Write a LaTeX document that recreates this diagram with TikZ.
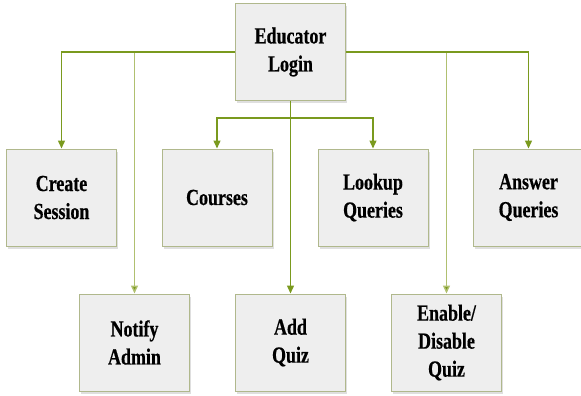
\documentclass[tikz,border=0pt]{standalone}
\usepackage{fontspec}
\setmainfont{Liberation Serif}[FakeStretch=0.78, BoldFeatures={FakeBold=0.6}]
\usetikzlibrary{arrows.meta,shadows}

\definecolor{olive}{RGB}{122,154,30}
\definecolor{paleolive}{RGB}{176,192,112}
\definecolor{boxline}{RGB}{176,184,140}
\definecolor{boxfill}{RGB}{238,238,238}

\begin{document}
\begin{tikzpicture}[x=1pt, y=-1pt,
    task/.style={draw=boxline, line width=1pt, fill=boxfill,
                 minimum width=110pt, minimum height=97pt, inner sep=0pt,
                 align=center, font=\fontsize{23}{28}\selectfont\bfseries,
                 drop shadow={shadow xshift=1.5pt, shadow yshift=-2.5pt, opacity=0.25}},
    link/.style={draw=olive, line width=1.4pt,
                 -{Triangle[length=8pt, width=7pt, fill=olive]}},
    farlink/.style={link, draw=paleolive}]
  \useasboundingbox (0,0) rectangle (581,396);

  \node[task] (E) at (290.5,52) {Educator\\Login};

  \node[task] (CS) at (61.5,197.5) {Create\\Session};
  \node[task] (C)  at (217,197.5)  {Courses};
  \node[task] (LQ) at (373,197.5)  {Lookup\\Queries};
  \node[task] (AQ) at (528.5,197.5) {Answer\\Queries};

  \node[task] (NA) at (134.5,342.5) {Notify\\Admin};
  \node[task] (AD) at (290.5,342.5) {Add\\Quiz};
  \node[task] (EQ) at (446.5,342.5) {Enable/\\Disable\\Quiz};

  \coordinate (fork) at (290.5,118);

  % outer branches
  \draw[farlink] (E.west) -| (NA.north);
  \draw[farlink] (E.east) -| (EQ.north);
  \draw[link] (E.west) -| (CS.north);
  \draw[link] (E.east) -| (AQ.north);

  % middle branches
  \draw[link] (E.south) -- (AD.north);
  \draw[link] (fork) -| (C.north);
  \draw[link] (fork) -| (LQ.north);
\end{tikzpicture}
\end{document}
